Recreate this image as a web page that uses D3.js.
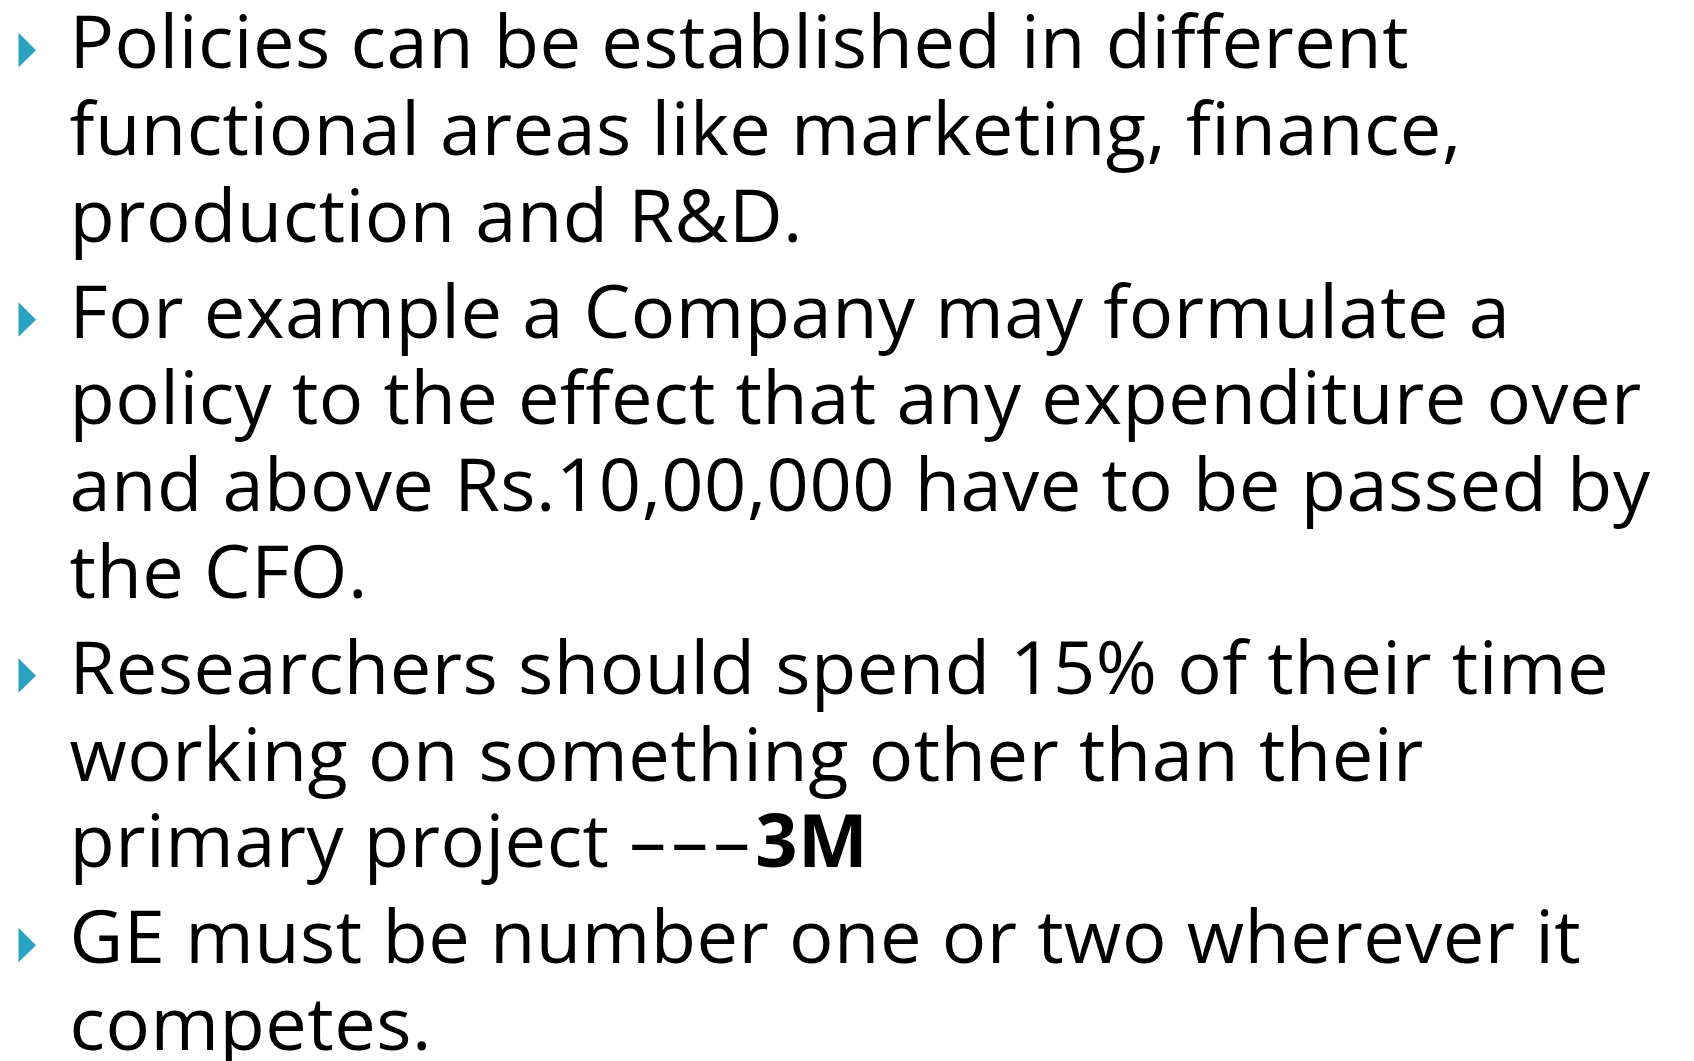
<!DOCTYPE html>
<html>
<head>
<meta charset="utf-8">
<script src="https://cdn.jsdelivr.net/npm/d3@7"></script>
<style>
  html, body { margin: 0; padding: 0; background: #ffffff; overflow: hidden; }
  svg { display: block; }
</style>
</head>
<body>
<script>
// ---- content (one array of wrapped lines per bullet) ----
const bullet1 = ["Policies can be established in different",
                 "functional areas like marketing, finance,",
                 "production and R&D."];
const bullet2 = ["For example a Company may formulate a",
                 "policy to the effect that any expenditure over",
                 "and above Rs.10,00,000 have to be passed by",
                 "the CFO."];
const bullet3 = ["Researchers should spend 15% of their time",
                 "working on something other than their",
                 "primary project –––3M"];
const bullet4 = ["GE must be number one or two wherever it",
                 "competes."];
const bullets = [bullet1, bullet2, bullet3, bullet4];
const boldTokens = ["3M"];
const dashTokens = ["–––"];

// ---- layout ----
const W = 1694, H = 1061;
const fontSize = 74;
const textX = 69.5;
const firstBaseline = 68.3;
const lineStep = 86.7;
const paraGap = 9.3;
const bulletColor = "#2aa3c2";

const svg = d3.select("body").append("svg")
  .attr("width", W).attr("height", H)
  .style("background", "#ffffff");

// flatten lines with paragraph index
const lines = [];
bullets.forEach((para, p) => para.forEach((txt, i) => lines.push({p, i, txt})));

const y = d3.scaleLinear()
  .domain([0, lines.length - 1])
  .range([firstBaseline, firstBaseline + lineStep * (lines.length - 1)]);
const yPos = (d, k) => y(k) + d.p * paraGap;

const g = svg.append("g")
  .attr("font-family", "'Open Sans', 'Noto Sans', 'DejaVu Sans', sans-serif")
  .attr("font-size", fontSize)
  .attr("fill", "#000000");

const texts = g.selectAll("text.line")
  .data(lines)
  .join("text")
  .attr("class", "line")
  .attr("x", textX)
  .attr("y", (d, k) => yPos(d, k))
  .style("letter-spacing", "0.5px");

texts.each(function(d) {
  const sel = d3.select(this);
  const re = new RegExp("(" + boldTokens.concat(dashTokens).join("|") + ")");
  d.txt.split(re).filter(s => s.length).forEach(seg => {
    const ts = sel.append("tspan")
      .attr("font-weight", boldTokens.includes(seg) ? 700 : 400)
      .text(seg);
    if (dashTokens.includes(seg)) ts.style("letter-spacing", "5px");
  });
});

// bullets: small teal right-pointing triangles at the first line of each paragraph
const firsts = lines.map((d, k) => ({...d, k})).filter(d => d.i === 0);
g.selectAll("path.bullet")
  .data(firsts)
  .join("path")
  .attr("class", "bullet")
  .attr("fill", bulletColor)
  .attr("d", d => {
    const b = yPos(d, d.k);
    return d3.line()([[18.5, b - 35.5], [36, b - 18], [18.5, b - 1]]) + "Z";
  });
</script>
</body>
</html>
